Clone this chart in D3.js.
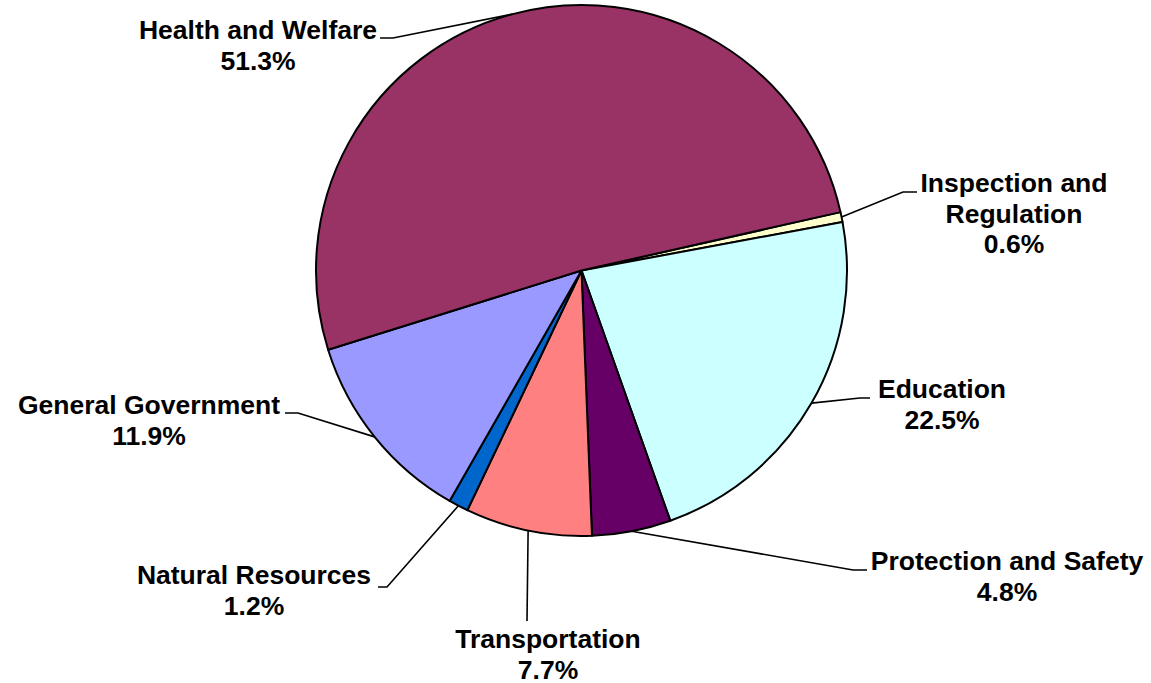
<!DOCTYPE html>
<html>
<head>
<meta charset="utf-8">
<script src="https://cdn.jsdelivr.net/npm/d3@7"></script>
<style>
  html, body { margin: 0; padding: 0; background: #fff; }
  svg { display: block; }
</style>
</head>
<body>
<div id="chart"></div>
<script>
// Data (slice order clockwise, starting just right of 12 o'clock rotation)
const categories = ['Inspection and Regulation', 'Education', 'Protection and Safety', 'Transportation', 'Natural Resources', 'General Government', 'Health and Welfare'];
const values = [0.6, 22.5, 4.8, 7.7, 1.2, 11.9, 51.3];
const labelLines = [
    ['Inspection and', 'Regulation'],
    ['Education'],
    ['Protection and Safety'],
    ['Transportation'],
    ['Natural Resources'],
    ['General Government'],
    ['Health and Welfare']
];
const colors = ['#FFFFCC', '#CCFFFF', '#660066', '#FF8080', '#0066CC', '#9999FF', '#993366'];

// Label placement: text centre x, first baseline y, leader elbow and stub end
const layout = [
    { x: 1014, y: 192, elbow: [903, 192], stub: [917, 192] },
    { x: 942, y: 398, elbow: [860, 398], stub: [870, 398] },
    { x: 1007, y: 570, elbow: [853, 570], stub: [867, 570] },
    { x: 548, y: 648, elbow: [527, 621], stub: [527, 621] },
    { x: 254, y: 584, elbow: [387, 587], stub: [378, 587] },
    { x: 149, y: 414, elbow: [298, 413], stub: [285, 413] },
    { x: 258, y: 39, elbow: [393, 38], stub: [380, 38] }
];

const W = 1151, H = 683;
const cx = 581.5, cy = 270.5, radius = 265.5;
const lineH = 30.5;

const data = categories.map((c, i) => ({ name: c, value: values[i], lines: labelLines[i], color: colors[i], pos: layout[i] }));

const svg = d3.select('#chart')
    .append('svg')
    .attr('width', W)
    .attr('height', H);

const start = 77.3 * Math.PI / 180;
const pie = d3.pie()
    .sort(null)
    .value(d => d.value)
    .startAngle(start)
    .endAngle(start + 2 * Math.PI);

const arc = d3.arc().innerRadius(0).outerRadius(radius);

const g = svg.append('g').attr('transform', `translate(${cx},${cy})`);
const arcs = pie(data);

g.selectAll('path.slice')
    .data(arcs)
    .enter()
    .append('path')
    .attr('class', 'slice')
    .attr('d', arc)
    .attr('fill', d => d.data.color)
    .attr('stroke', '#000')
    .attr('stroke-width', 2)
    .attr('stroke-linejoin', 'round');

// Leader lines
svg.selectAll('polyline.leader')
    .data(arcs)
    .enter()
    .append('polyline')
    .attr('class', 'leader')
    .attr('fill', 'none')
    .attr('stroke', '#000')
    .attr('stroke-width', 1.6)
    .attr('points', d => {
        const a = (d.startAngle + d.endAngle) / 2;
        const px = cx + radius * Math.sin(a);
        const py = cy - radius * Math.cos(a);
        const p = d.data.pos;
        return [[px, py], p.elbow, p.stub].map(q => q.join(',')).join(' ');
    });

// Labels
const labels = svg.selectAll('text.label')
    .data(data)
    .enter()
    .append('text')
    .attr('class', 'label')
    .attr('text-anchor', 'middle')
    .attr('font-family', '"Liberation Sans", Arial, sans-serif')
    .attr('font-weight', 'bold')
    .attr('font-size', 26.5)
    .attr('fill', '#000');

labels.each(function(d) {
    const t = d3.select(this);
    const rows = d.lines.concat([d.value.toFixed(1) + '%']);
    rows.forEach((r, i) => {
        t.append('tspan')
            .attr('x', d.pos.x)
            .attr('y', d.pos.y + i * lineH)
            .text(r);
    });
});
</script>
</body>
</html>
